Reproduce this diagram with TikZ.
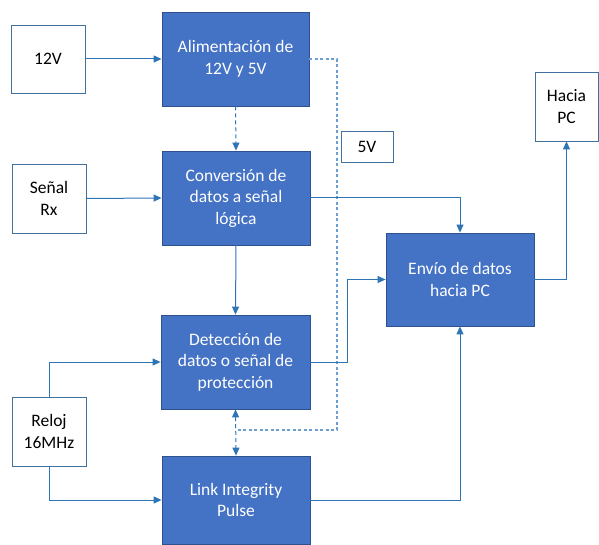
\documentclass[tikz,border=0pt]{standalone}
\usepackage{fontspec}
\setmainfont{Carlito}
\usetikzlibrary{arrows.meta}
\definecolor{blockfill}{HTML}{4472C4}
\definecolor{blockedge}{HTML}{2F528F}
\definecolor{wire}{HTML}{2E75B6}
\definecolor{railwire}{HTML}{6A9FD4}
\definecolor{plainedge}{HTML}{41719C}
\begin{document}
\begin{tikzpicture}[x=1pt,y=-1pt,
  block/.style={draw=blockedge,fill=blockfill,line width=0.8pt,text=white,
    font=\fontsize{17.5}{21.5}\selectfont,align=center,inner sep=0pt},
  plain/.style={draw=plainedge,fill=white,line width=0.8pt,text=black,
    font=\fontsize{17.5}{21.5}\selectfont,align=center,inner sep=0pt},
  link/.style={draw=wire,line width=1pt,-{Triangle[length=8pt,width=7pt]}},
  dlink/.style={link,dash pattern=on 4pt off 3pt},
  dline/.style={draw=wire,line width=1pt,dash pattern=on 4pt off 3pt},
  rail/.style={draw=railwire,line width=1.2pt,dash pattern=on 3pt off 2.5pt}]
\useasboundingbox (0,0) rectangle (599,545);
% blocks (centre, size)
\node[block,minimum width=147pt,minimum height=94pt] (ali) at (235.5,59) {Alimentación de\\12V y 5V};
\node[block,minimum width=148pt,minimum height=94pt] (conv) at (236,198) {Conversión de\\datos a señal\\lógica};
\node[block,minimum width=149pt,minimum height=94pt] (det) at (235.5,362) {Detección de\\datos o señal de\\protección};
\node[block,minimum width=148pt,minimum height=88pt] (lip) at (236,500) {Link Integrity\\Pulse};
\node[block,minimum width=148pt,minimum height=93pt] (env) at (460,279.5) {Envío de datos\\hacia PC};
% plain boxes
\node[plain,minimum width=74pt,minimum height=68pt] (v12) at (48,59) {12V};
\node[plain,minimum width=74pt,minimum height=69pt] (rx) at (49,198.5) {Señal\\Rx};
\node[plain,minimum width=74pt,minimum height=69pt] (clk) at (49,431.5) {Reloj\\16MHz};
\node[plain,minimum width=52pt,minimum height=31pt] (v5) at (367,146.5) {5V};
\node[plain,minimum width=63pt,minimum height=69pt] (pc) at (566.5,106.5) {Hacia\\PC};
% dashed 5V supply rail
\coordinate (railtop) at (337,59);
\coordinate (railbot) at (337,430);
\coordinate (railend) at (236,430);
\draw[rail] (ali.east) -- (railtop) -- (railbot) -- (railend);
\draw[dlink] (ali.south) -- (conv.north);
\draw[dline,{Triangle[length=8pt,width=7pt]}-{Triangle[length=8pt,width=7pt]}] (det.south) -- (lip.north);
% signal paths
\draw[link] (v12.east) -- (ali.west);
\draw[link] (rx.east) -- (conv.west);
\draw[link] (conv.south) -- (det.north);
\draw[link] (conv.east) -| (env.north);
\draw[link] (det.east) -- ++(37,0) |- (env.west);
\draw[link] (env.east) -| (pc.south);
\draw[link] (lip.east) -| (env.south);
\draw[link] (clk.north) |- (det.west);
\draw[link] (clk.south) |- (lip.west);
\end{tikzpicture}
\end{document}
